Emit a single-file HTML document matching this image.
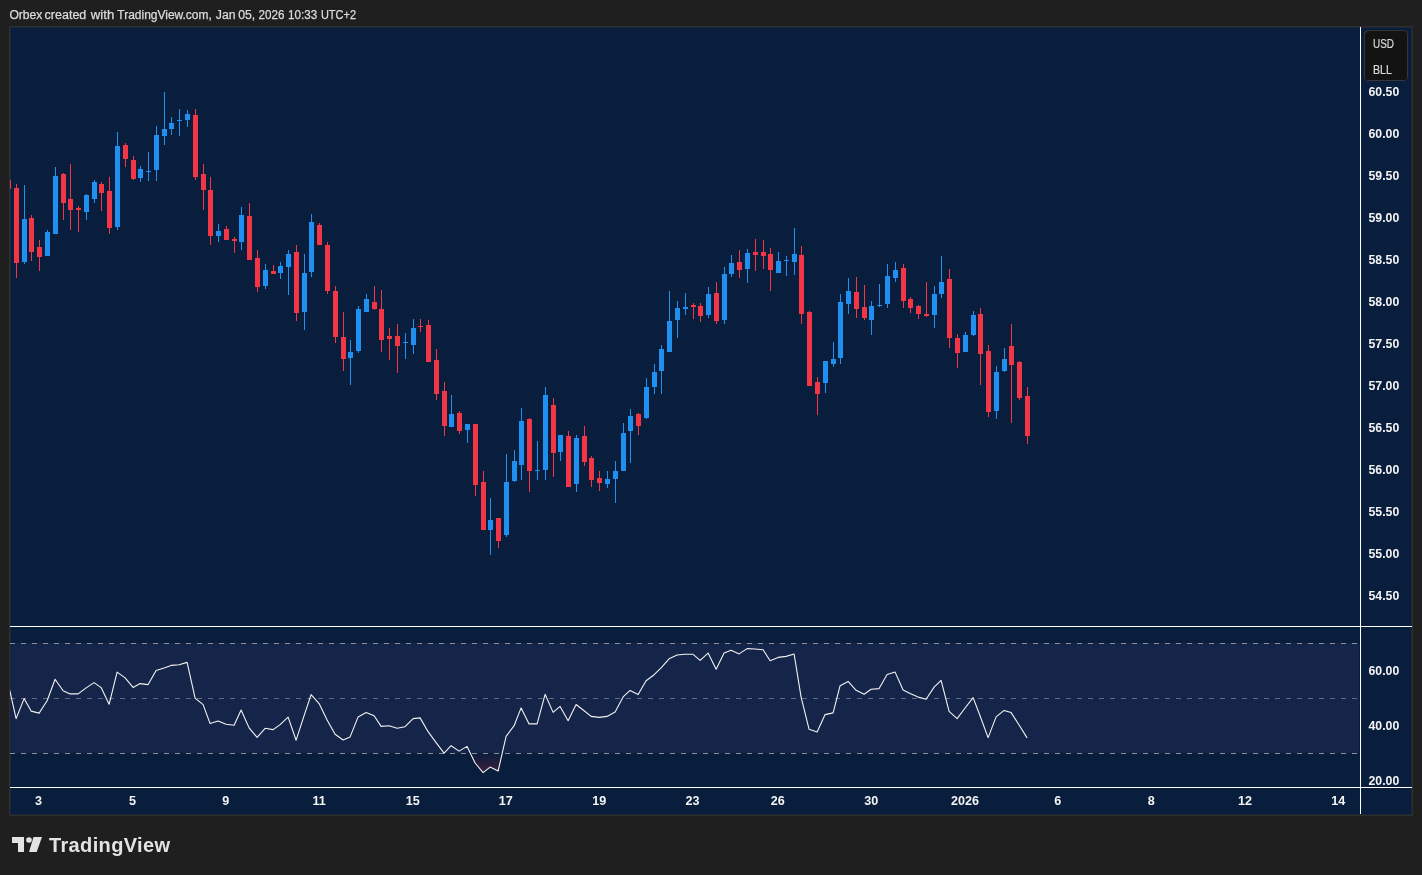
<!DOCTYPE html>
<html><head><meta charset="utf-8"><style>
html,body{margin:0;padding:0;background:#1f1f1f;width:1422px;height:875px;overflow:hidden}
svg{position:absolute;left:0;top:0;will-change:transform}
.ax{font-family:"Liberation Sans",sans-serif;font-size:12.6px;font-weight:bold;fill:#f4f4f4}
.hd{font-family:"Liberation Sans",sans-serif;font-size:12px;fill:#dcdcdc;stroke:#dcdcdc;stroke-width:0.25}
.bx{font-family:"Liberation Sans",sans-serif;font-size:12px;fill:#dadada;stroke:#dadada;stroke-width:0.2}
.logo{font-family:"Liberation Sans",sans-serif;font-size:20px;font-weight:bold;fill:#e3e3e3}
</style></head><body>
<svg width="1422" height="875" viewBox="0 0 1422 875" shape-rendering="crispEdges">
<text x="9.4" y="19" class="hd" textLength="33.0" lengthAdjust="spacingAndGlyphs">Orbex</text><text x="44.6" y="19" class="hd" textLength="41.7" lengthAdjust="spacingAndGlyphs">created</text><text x="90.8" y="19" class="hd" textLength="23.4" lengthAdjust="spacingAndGlyphs">with</text><text x="117.3" y="19" class="hd" textLength="94.5" lengthAdjust="spacingAndGlyphs">TradingView.com,</text><text x="215.8" y="19" class="hd" textLength="19.7" lengthAdjust="spacingAndGlyphs">Jan</text><text x="238.2" y="19" class="hd" textLength="17.0" lengthAdjust="spacingAndGlyphs">05,</text><text x="258.5" y="19" class="hd" textLength="25.9" lengthAdjust="spacingAndGlyphs">2026</text><text x="288.1" y="19" class="hd" textLength="29.2" lengthAdjust="spacingAndGlyphs">10:33</text><text x="320.9" y="19" class="hd" textLength="35.1" lengthAdjust="spacingAndGlyphs">UTC+2</text>
<rect x="9" y="26" width="1404" height="790" fill="#2f2f2f"/>
<rect x="10" y="27" width="1402" height="788" fill="#1b2637"/>
<rect x="11" y="28" width="1400" height="786" fill="#091e3c"/>
<rect x="10" y="643" width="1349" height="110" fill="#152549"/>
<g stroke-width="1" stroke-dasharray="5,6">
<line x1="10" y1="643.5" x2="1359" y2="643.5" stroke="#8c8e94"/>
<line x1="10" y1="698.5" x2="1359" y2="698.5" stroke="#636a80"/>
<line x1="10" y1="753.5" x2="1359" y2="753.5" stroke="#8c8e94"/>
</g>
<defs>
<clipPath id="mainclip"><rect x="10" y="27" width="1350" height="599"/></clipPath>
<clipPath id="rsiclip"><rect x="10" y="627" width="1350" height="160"/></clipPath>
<clipPath id="osclip"><rect x="10" y="754" width="1350" height="33"/></clipPath>
<linearGradient id="osg" x1="0" y1="753" x2="0" y2="775" gradientUnits="userSpaceOnUse">
<stop offset="0" stop-color="#091e3c"/><stop offset="1" stop-color="#44203f"/>
</linearGradient>
</defs>
<g clip-path="url(#mainclip)">
<rect x="8" y="180" width="1" height="9" fill="#f23645"/>
<rect x="6" y="180" width="5" height="9" fill="#f23645"/>
<rect x="16" y="184" width="1" height="94" fill="#f23645"/>
<rect x="14" y="188" width="5" height="75" fill="#f23645"/>
<rect x="24" y="185" width="1" height="79" fill="#1f8ff0"/>
<rect x="22" y="219" width="5" height="43" fill="#1f8ff0"/>
<rect x="31" y="215" width="1" height="46" fill="#f23645"/>
<rect x="29" y="218" width="5" height="34" fill="#f23645"/>
<rect x="39" y="240" width="1" height="31" fill="#f23645"/>
<rect x="37" y="247" width="5" height="10" fill="#f23645"/>
<rect x="47" y="230" width="1" height="26" fill="#1f8ff0"/>
<rect x="45" y="232" width="5" height="24" fill="#1f8ff0"/>
<rect x="55" y="167" width="1" height="67" fill="#1f8ff0"/>
<rect x="53" y="176" width="5" height="58" fill="#1f8ff0"/>
<rect x="63" y="173" width="1" height="47" fill="#f23645"/>
<rect x="61" y="174" width="5" height="29" fill="#f23645"/>
<rect x="70" y="164" width="1" height="66" fill="#f23645"/>
<rect x="68" y="199" width="5" height="11" fill="#f23645"/>
<rect x="78" y="206" width="1" height="26" fill="#f23645"/>
<rect x="76" y="208" width="5" height="2" fill="#f23645"/>
<rect x="86" y="194" width="1" height="26" fill="#1f8ff0"/>
<rect x="84" y="195" width="5" height="17" fill="#1f8ff0"/>
<rect x="94" y="180" width="1" height="23" fill="#1f8ff0"/>
<rect x="92" y="182" width="5" height="17" fill="#1f8ff0"/>
<rect x="101" y="182" width="1" height="29" fill="#f23645"/>
<rect x="99" y="184" width="5" height="9" fill="#f23645"/>
<rect x="109" y="177" width="1" height="57" fill="#f23645"/>
<rect x="107" y="191" width="5" height="37" fill="#f23645"/>
<rect x="117" y="132" width="1" height="98" fill="#1f8ff0"/>
<rect x="115" y="146" width="5" height="81" fill="#1f8ff0"/>
<rect x="125" y="143" width="1" height="24" fill="#f23645"/>
<rect x="123" y="145" width="5" height="14" fill="#f23645"/>
<rect x="133" y="156" width="1" height="24" fill="#f23645"/>
<rect x="131" y="160" width="5" height="19" fill="#f23645"/>
<rect x="140" y="166" width="1" height="16" fill="#1f8ff0"/>
<rect x="138" y="169" width="5" height="9" fill="#1f8ff0"/>
<rect x="148" y="152" width="1" height="29" fill="#1f8ff0"/>
<rect x="146" y="171" width="5" height="1" fill="#1f8ff0"/>
<rect x="156" y="126" width="1" height="55" fill="#1f8ff0"/>
<rect x="154" y="135" width="5" height="35" fill="#1f8ff0"/>
<rect x="164" y="92" width="1" height="53" fill="#1f8ff0"/>
<rect x="162" y="129" width="5" height="7" fill="#1f8ff0"/>
<rect x="171" y="117" width="1" height="18" fill="#1f8ff0"/>
<rect x="169" y="123" width="5" height="6" fill="#1f8ff0"/>
<rect x="179" y="109" width="1" height="27" fill="#1f8ff0"/>
<rect x="177" y="120" width="5" height="1" fill="#1f8ff0"/>
<rect x="187" y="110" width="1" height="17" fill="#1f8ff0"/>
<rect x="185" y="114" width="5" height="6" fill="#1f8ff0"/>
<rect x="195" y="109" width="1" height="71" fill="#f23645"/>
<rect x="193" y="115" width="5" height="62" fill="#f23645"/>
<rect x="203" y="164" width="1" height="46" fill="#f23645"/>
<rect x="201" y="174" width="5" height="16" fill="#f23645"/>
<rect x="210" y="177" width="1" height="68" fill="#f23645"/>
<rect x="208" y="190" width="5" height="46" fill="#f23645"/>
<rect x="218" y="224" width="1" height="18" fill="#1f8ff0"/>
<rect x="216" y="231" width="5" height="5" fill="#1f8ff0"/>
<rect x="226" y="226" width="1" height="14" fill="#f23645"/>
<rect x="224" y="229" width="5" height="11" fill="#f23645"/>
<rect x="234" y="237" width="1" height="16" fill="#f23645"/>
<rect x="232" y="239" width="5" height="2" fill="#f23645"/>
<rect x="241" y="207" width="1" height="43" fill="#1f8ff0"/>
<rect x="239" y="215" width="5" height="27" fill="#1f8ff0"/>
<rect x="249" y="203" width="1" height="57" fill="#f23645"/>
<rect x="247" y="216" width="5" height="44" fill="#f23645"/>
<rect x="257" y="250" width="1" height="42" fill="#f23645"/>
<rect x="255" y="258" width="5" height="29" fill="#f23645"/>
<rect x="265" y="264" width="1" height="25" fill="#1f8ff0"/>
<rect x="263" y="270" width="5" height="16" fill="#1f8ff0"/>
<rect x="273" y="265" width="1" height="9" fill="#f23645"/>
<rect x="271" y="271" width="5" height="3" fill="#f23645"/>
<rect x="280" y="262" width="1" height="17" fill="#1f8ff0"/>
<rect x="278" y="266" width="5" height="7" fill="#1f8ff0"/>
<rect x="288" y="250" width="1" height="45" fill="#1f8ff0"/>
<rect x="286" y="254" width="5" height="13" fill="#1f8ff0"/>
<rect x="296" y="245" width="1" height="76" fill="#f23645"/>
<rect x="294" y="252" width="5" height="61" fill="#f23645"/>
<rect x="304" y="254" width="1" height="76" fill="#1f8ff0"/>
<rect x="302" y="273" width="5" height="39" fill="#1f8ff0"/>
<rect x="311" y="214" width="1" height="63" fill="#1f8ff0"/>
<rect x="309" y="222" width="5" height="50" fill="#1f8ff0"/>
<rect x="319" y="223" width="1" height="22" fill="#f23645"/>
<rect x="317" y="225" width="5" height="20" fill="#f23645"/>
<rect x="327" y="242" width="1" height="52" fill="#f23645"/>
<rect x="325" y="245" width="5" height="46" fill="#f23645"/>
<rect x="335" y="286" width="1" height="57" fill="#f23645"/>
<rect x="333" y="291" width="5" height="46" fill="#f23645"/>
<rect x="343" y="312" width="1" height="59" fill="#f23645"/>
<rect x="341" y="337" width="5" height="22" fill="#f23645"/>
<rect x="350" y="340" width="1" height="45" fill="#1f8ff0"/>
<rect x="348" y="352" width="5" height="6" fill="#1f8ff0"/>
<rect x="358" y="306" width="1" height="47" fill="#1f8ff0"/>
<rect x="356" y="309" width="5" height="42" fill="#1f8ff0"/>
<rect x="366" y="294" width="1" height="18" fill="#1f8ff0"/>
<rect x="364" y="299" width="5" height="13" fill="#1f8ff0"/>
<rect x="374" y="286" width="1" height="24" fill="#f23645"/>
<rect x="372" y="302" width="5" height="7" fill="#f23645"/>
<rect x="381" y="290" width="1" height="62" fill="#f23645"/>
<rect x="379" y="309" width="5" height="31" fill="#f23645"/>
<rect x="389" y="328" width="1" height="32" fill="#f23645"/>
<rect x="387" y="336" width="5" height="3" fill="#f23645"/>
<rect x="397" y="324" width="1" height="49" fill="#f23645"/>
<rect x="395" y="336" width="5" height="10" fill="#f23645"/>
<rect x="405" y="333" width="1" height="26" fill="#1f8ff0"/>
<rect x="403" y="342" width="5" height="1" fill="#1f8ff0"/>
<rect x="413" y="319" width="1" height="35" fill="#1f8ff0"/>
<rect x="411" y="328" width="5" height="17" fill="#1f8ff0"/>
<rect x="420" y="319" width="1" height="13" fill="#f23645"/>
<rect x="418" y="326" width="5" height="1" fill="#f23645"/>
<rect x="428" y="320" width="1" height="42" fill="#f23645"/>
<rect x="426" y="325" width="5" height="37" fill="#f23645"/>
<rect x="436" y="349" width="1" height="51" fill="#f23645"/>
<rect x="434" y="360" width="5" height="34" fill="#f23645"/>
<rect x="444" y="382" width="1" height="54" fill="#f23645"/>
<rect x="442" y="391" width="5" height="35" fill="#f23645"/>
<rect x="451" y="395" width="1" height="32" fill="#1f8ff0"/>
<rect x="449" y="414" width="5" height="13" fill="#1f8ff0"/>
<rect x="459" y="411" width="1" height="23" fill="#f23645"/>
<rect x="457" y="413" width="5" height="18" fill="#f23645"/>
<rect x="467" y="424" width="1" height="19" fill="#1f8ff0"/>
<rect x="465" y="424" width="5" height="6" fill="#1f8ff0"/>
<rect x="475" y="424" width="1" height="72" fill="#f23645"/>
<rect x="473" y="424" width="5" height="61" fill="#f23645"/>
<rect x="483" y="471" width="1" height="59" fill="#f23645"/>
<rect x="481" y="482" width="5" height="48" fill="#f23645"/>
<rect x="490" y="498" width="1" height="57" fill="#1f8ff0"/>
<rect x="488" y="520" width="5" height="10" fill="#1f8ff0"/>
<rect x="498" y="518" width="1" height="30" fill="#f23645"/>
<rect x="496" y="518" width="5" height="23" fill="#f23645"/>
<rect x="506" y="454" width="1" height="83" fill="#1f8ff0"/>
<rect x="504" y="482" width="5" height="53" fill="#1f8ff0"/>
<rect x="514" y="450" width="1" height="32" fill="#1f8ff0"/>
<rect x="512" y="461" width="5" height="20" fill="#1f8ff0"/>
<rect x="521" y="408" width="1" height="72" fill="#1f8ff0"/>
<rect x="519" y="421" width="5" height="44" fill="#1f8ff0"/>
<rect x="529" y="418" width="1" height="74" fill="#f23645"/>
<rect x="527" y="419" width="5" height="52" fill="#f23645"/>
<rect x="537" y="441" width="1" height="39" fill="#1f8ff0"/>
<rect x="535" y="470" width="5" height="1" fill="#1f8ff0"/>
<rect x="545" y="387" width="1" height="93" fill="#1f8ff0"/>
<rect x="543" y="395" width="5" height="75" fill="#1f8ff0"/>
<rect x="553" y="398" width="1" height="79" fill="#f23645"/>
<rect x="551" y="405" width="5" height="48" fill="#f23645"/>
<rect x="560" y="435" width="1" height="26" fill="#1f8ff0"/>
<rect x="558" y="435" width="5" height="17" fill="#1f8ff0"/>
<rect x="568" y="431" width="1" height="56" fill="#f23645"/>
<rect x="566" y="436" width="5" height="51" fill="#f23645"/>
<rect x="576" y="435" width="1" height="57" fill="#1f8ff0"/>
<rect x="574" y="438" width="5" height="46" fill="#1f8ff0"/>
<rect x="584" y="426" width="1" height="40" fill="#f23645"/>
<rect x="582" y="436" width="5" height="26" fill="#f23645"/>
<rect x="591" y="456" width="1" height="31" fill="#f23645"/>
<rect x="589" y="458" width="5" height="22" fill="#f23645"/>
<rect x="599" y="471" width="1" height="20" fill="#f23645"/>
<rect x="597" y="478" width="5" height="5" fill="#f23645"/>
<rect x="607" y="471" width="1" height="17" fill="#1f8ff0"/>
<rect x="605" y="479" width="5" height="5" fill="#1f8ff0"/>
<rect x="615" y="461" width="1" height="42" fill="#1f8ff0"/>
<rect x="613" y="471" width="5" height="8" fill="#1f8ff0"/>
<rect x="623" y="423" width="1" height="48" fill="#1f8ff0"/>
<rect x="621" y="433" width="5" height="38" fill="#1f8ff0"/>
<rect x="630" y="409" width="1" height="54" fill="#1f8ff0"/>
<rect x="628" y="416" width="5" height="15" fill="#1f8ff0"/>
<rect x="638" y="413" width="1" height="22" fill="#f23645"/>
<rect x="636" y="414" width="5" height="12" fill="#f23645"/>
<rect x="646" y="378" width="1" height="41" fill="#1f8ff0"/>
<rect x="644" y="387" width="5" height="31" fill="#1f8ff0"/>
<rect x="654" y="364" width="1" height="30" fill="#1f8ff0"/>
<rect x="652" y="372" width="5" height="15" fill="#1f8ff0"/>
<rect x="661" y="345" width="1" height="49" fill="#1f8ff0"/>
<rect x="659" y="349" width="5" height="22" fill="#1f8ff0"/>
<rect x="669" y="291" width="1" height="61" fill="#1f8ff0"/>
<rect x="667" y="321" width="5" height="31" fill="#1f8ff0"/>
<rect x="677" y="301" width="1" height="37" fill="#1f8ff0"/>
<rect x="675" y="308" width="5" height="12" fill="#1f8ff0"/>
<rect x="685" y="293" width="1" height="22" fill="#1f8ff0"/>
<rect x="683" y="307" width="5" height="2" fill="#1f8ff0"/>
<rect x="693" y="303" width="1" height="16" fill="#f23645"/>
<rect x="691" y="305" width="5" height="2" fill="#f23645"/>
<rect x="700" y="303" width="1" height="19" fill="#f23645"/>
<rect x="698" y="306" width="5" height="10" fill="#f23645"/>
<rect x="708" y="287" width="1" height="31" fill="#1f8ff0"/>
<rect x="706" y="294" width="5" height="21" fill="#1f8ff0"/>
<rect x="716" y="282" width="1" height="42" fill="#f23645"/>
<rect x="714" y="293" width="5" height="28" fill="#f23645"/>
<rect x="724" y="267" width="1" height="57" fill="#1f8ff0"/>
<rect x="722" y="274" width="5" height="46" fill="#1f8ff0"/>
<rect x="731" y="255" width="1" height="22" fill="#1f8ff0"/>
<rect x="729" y="263" width="5" height="11" fill="#1f8ff0"/>
<rect x="739" y="250" width="1" height="28" fill="#f23645"/>
<rect x="737" y="262" width="5" height="8" fill="#f23645"/>
<rect x="747" y="249" width="1" height="34" fill="#1f8ff0"/>
<rect x="745" y="253" width="5" height="16" fill="#1f8ff0"/>
<rect x="755" y="239" width="1" height="32" fill="#f23645"/>
<rect x="753" y="252" width="5" height="3" fill="#f23645"/>
<rect x="763" y="240" width="1" height="29" fill="#f23645"/>
<rect x="761" y="252" width="5" height="4" fill="#f23645"/>
<rect x="770" y="248" width="1" height="43" fill="#f23645"/>
<rect x="768" y="254" width="5" height="16" fill="#f23645"/>
<rect x="778" y="252" width="1" height="21" fill="#1f8ff0"/>
<rect x="776" y="261" width="5" height="12" fill="#1f8ff0"/>
<rect x="786" y="256" width="1" height="20" fill="#1f8ff0"/>
<rect x="784" y="260" width="5" height="1" fill="#1f8ff0"/>
<rect x="794" y="228" width="1" height="47" fill="#1f8ff0"/>
<rect x="792" y="254" width="5" height="8" fill="#1f8ff0"/>
<rect x="801" y="246" width="1" height="78" fill="#f23645"/>
<rect x="799" y="255" width="5" height="59" fill="#f23645"/>
<rect x="809" y="311" width="1" height="75" fill="#f23645"/>
<rect x="807" y="312" width="5" height="74" fill="#f23645"/>
<rect x="817" y="377" width="1" height="38" fill="#f23645"/>
<rect x="815" y="382" width="5" height="12" fill="#f23645"/>
<rect x="825" y="361" width="1" height="32" fill="#1f8ff0"/>
<rect x="823" y="361" width="5" height="22" fill="#1f8ff0"/>
<rect x="833" y="342" width="1" height="25" fill="#1f8ff0"/>
<rect x="831" y="359" width="5" height="5" fill="#1f8ff0"/>
<rect x="840" y="294" width="1" height="70" fill="#1f8ff0"/>
<rect x="838" y="302" width="5" height="56" fill="#1f8ff0"/>
<rect x="848" y="278" width="1" height="36" fill="#1f8ff0"/>
<rect x="846" y="291" width="5" height="13" fill="#1f8ff0"/>
<rect x="856" y="277" width="1" height="41" fill="#f23645"/>
<rect x="854" y="292" width="5" height="17" fill="#f23645"/>
<rect x="864" y="285" width="1" height="35" fill="#f23645"/>
<rect x="862" y="307" width="5" height="11" fill="#f23645"/>
<rect x="871" y="301" width="1" height="34" fill="#1f8ff0"/>
<rect x="869" y="306" width="5" height="14" fill="#1f8ff0"/>
<rect x="879" y="284" width="1" height="23" fill="#1f8ff0"/>
<rect x="877" y="305" width="5" height="1" fill="#1f8ff0"/>
<rect x="887" y="264" width="1" height="44" fill="#1f8ff0"/>
<rect x="885" y="276" width="5" height="28" fill="#1f8ff0"/>
<rect x="895" y="262" width="1" height="20" fill="#1f8ff0"/>
<rect x="893" y="270" width="5" height="8" fill="#1f8ff0"/>
<rect x="903" y="264" width="1" height="44" fill="#f23645"/>
<rect x="901" y="268" width="5" height="33" fill="#f23645"/>
<rect x="910" y="297" width="1" height="16" fill="#f23645"/>
<rect x="908" y="299" width="5" height="9" fill="#f23645"/>
<rect x="918" y="305" width="1" height="14" fill="#f23645"/>
<rect x="916" y="306" width="5" height="8" fill="#f23645"/>
<rect x="926" y="282" width="1" height="35" fill="#f23645"/>
<rect x="924" y="314" width="5" height="2" fill="#f23645"/>
<rect x="934" y="286" width="1" height="42" fill="#1f8ff0"/>
<rect x="932" y="294" width="5" height="21" fill="#1f8ff0"/>
<rect x="941" y="256" width="1" height="42" fill="#1f8ff0"/>
<rect x="939" y="282" width="5" height="12" fill="#1f8ff0"/>
<rect x="949" y="269" width="1" height="79" fill="#f23645"/>
<rect x="947" y="279" width="5" height="59" fill="#f23645"/>
<rect x="957" y="334" width="1" height="34" fill="#f23645"/>
<rect x="955" y="338" width="5" height="15" fill="#f23645"/>
<rect x="965" y="332" width="1" height="20" fill="#1f8ff0"/>
<rect x="963" y="335" width="5" height="17" fill="#1f8ff0"/>
<rect x="973" y="311" width="1" height="25" fill="#1f8ff0"/>
<rect x="971" y="315" width="5" height="20" fill="#1f8ff0"/>
<rect x="980" y="308" width="1" height="77" fill="#f23645"/>
<rect x="978" y="314" width="5" height="40" fill="#f23645"/>
<rect x="988" y="345" width="1" height="72" fill="#f23645"/>
<rect x="986" y="351" width="5" height="61" fill="#f23645"/>
<rect x="996" y="366" width="1" height="53" fill="#1f8ff0"/>
<rect x="994" y="372" width="5" height="39" fill="#1f8ff0"/>
<rect x="1004" y="348" width="1" height="24" fill="#1f8ff0"/>
<rect x="1002" y="359" width="5" height="12" fill="#1f8ff0"/>
<rect x="1011" y="324" width="1" height="99" fill="#f23645"/>
<rect x="1009" y="346" width="5" height="19" fill="#f23645"/>
<rect x="1019" y="361" width="1" height="39" fill="#f23645"/>
<rect x="1017" y="362" width="5" height="36" fill="#f23645"/>
<rect x="1027" y="387" width="1" height="57" fill="#f23645"/>
<rect x="1025" y="396" width="5" height="40" fill="#f23645"/>
</g>
<rect x="10" y="626" width="1402" height="1" fill="#ffffff"/>
<rect x="10" y="787" width="1402" height="1" fill="#ffffff"/>
<rect x="1360" y="27" width="1" height="787" fill="#ffffff"/>
<g clip-path="url(#osclip)"><polygon points="10,753 8.1,683.0 16.1,718.6 24.1,698.6 31.1,711.1 39.1,713.1 47.1,700.7 55.1,679.3 63.1,690.7 70.1,693.9 78.1,693.9 86.1,687.9 94.1,682.6 101.1,687.6 109.1,704.3 117.1,672.1 125.1,677.9 133.1,687.4 140.1,683.6 148.1,684.6 156.1,670.4 164.1,667.9 171.1,665.4 179.1,664.7 187.1,662.4 195.1,698.1 203.1,704.6 210.1,723.6 218.1,721.1 226.1,724.3 234.1,725.3 241.1,710.0 249.1,727.9 257.1,737.4 265.1,728.3 273.1,729.6 280.1,724.6 288.1,717.1 296.1,740.2 304.1,715.7 311.1,694.6 319.1,703.6 327.1,720.0 335.1,734.3 343.1,740.0 350.1,736.9 358.1,716.9 366.1,712.4 374.1,715.7 381.1,726.4 389.1,725.7 397.1,728.3 405.1,726.7 413.1,718.6 420.1,717.9 428.1,731.7 436.1,742.6 444.1,753.1 451.1,745.7 459.1,751.1 467.1,746.4 475.1,763.0 483.1,772.6 490.1,767.1 498.1,771.1 506.1,736.4 514.1,725.7 521.1,707.9 529.1,723.9 537.1,723.9 545.1,694.3 553.1,712.4 560.1,706.4 568.1,720.7 576.1,704.5 584.1,710.7 591.1,716.4 599.1,717.4 607.1,716.4 615.1,712.1 623.1,696.9 630.1,690.4 638.1,694.6 646.1,680.7 654.1,674.7 661.1,667.9 669.1,658.8 677.1,655.0 685.1,654.3 693.1,654.3 700.1,660.4 708.1,653.1 716.1,669.3 724.1,653.1 731.1,650.3 739.1,653.9 747.1,648.6 755.1,649.0 763.1,649.7 770.1,660.7 778.1,657.4 786.1,656.4 794.1,654.0 801.1,697.1 809.1,729.3 817.1,732.1 825.1,714.6 833.1,712.9 840.1,685.7 848.1,681.4 856.1,690.3 864.1,694.3 871.1,689.3 879.1,688.6 887.1,674.6 895.1,672.1 903.1,690.0 910.1,693.6 918.1,697.1 926.1,699.3 934.1,687.1 941.1,680.3 949.1,711.4 957.1,718.6 965.1,708.0 973.1,697.6 980.1,716.0 988.1,737.6 996.1,716.9 1004.1,710.4 1011.1,712.6 1019.1,725.0 1027.1,737.9 1030,753" fill="url(#osg)" shape-rendering="geometricPrecision"/></g>
<g clip-path="url(#rsiclip)"><polyline points="8.1,683.0 16.1,718.6 24.1,698.6 31.1,711.1 39.1,713.1 47.1,700.7 55.1,679.3 63.1,690.7 70.1,693.9 78.1,693.9 86.1,687.9 94.1,682.6 101.1,687.6 109.1,704.3 117.1,672.1 125.1,677.9 133.1,687.4 140.1,683.6 148.1,684.6 156.1,670.4 164.1,667.9 171.1,665.4 179.1,664.7 187.1,662.4 195.1,698.1 203.1,704.6 210.1,723.6 218.1,721.1 226.1,724.3 234.1,725.3 241.1,710.0 249.1,727.9 257.1,737.4 265.1,728.3 273.1,729.6 280.1,724.6 288.1,717.1 296.1,740.2 304.1,715.7 311.1,694.6 319.1,703.6 327.1,720.0 335.1,734.3 343.1,740.0 350.1,736.9 358.1,716.9 366.1,712.4 374.1,715.7 381.1,726.4 389.1,725.7 397.1,728.3 405.1,726.7 413.1,718.6 420.1,717.9 428.1,731.7 436.1,742.6 444.1,753.1 451.1,745.7 459.1,751.1 467.1,746.4 475.1,763.0 483.1,772.6 490.1,767.1 498.1,771.1 506.1,736.4 514.1,725.7 521.1,707.9 529.1,723.9 537.1,723.9 545.1,694.3 553.1,712.4 560.1,706.4 568.1,720.7 576.1,704.5 584.1,710.7 591.1,716.4 599.1,717.4 607.1,716.4 615.1,712.1 623.1,696.9 630.1,690.4 638.1,694.6 646.1,680.7 654.1,674.7 661.1,667.9 669.1,658.8 677.1,655.0 685.1,654.3 693.1,654.3 700.1,660.4 708.1,653.1 716.1,669.3 724.1,653.1 731.1,650.3 739.1,653.9 747.1,648.6 755.1,649.0 763.1,649.7 770.1,660.7 778.1,657.4 786.1,656.4 794.1,654.0 801.1,697.1 809.1,729.3 817.1,732.1 825.1,714.6 833.1,712.9 840.1,685.7 848.1,681.4 856.1,690.3 864.1,694.3 871.1,689.3 879.1,688.6 887.1,674.6 895.1,672.1 903.1,690.0 910.1,693.6 918.1,697.1 926.1,699.3 934.1,687.1 941.1,680.3 949.1,711.4 957.1,718.6 965.1,708.0 973.1,697.6 980.1,716.0 988.1,737.6 996.1,716.9 1004.1,710.4 1011.1,712.6 1019.1,725.0 1027.1,737.9" fill="none" stroke="#f2f2f2" stroke-width="1.1" stroke-linejoin="round" shape-rendering="geometricPrecision"/></g>
<g shape-rendering="geometricPrecision">
<text x="1368.5" y="95.5" class="ax" style="font-size:12.3px">60.50</text>
<text x="1368.5" y="137.5" class="ax" style="font-size:12.3px">60.00</text>
<text x="1368.5" y="179.5" class="ax" style="font-size:12.3px">59.50</text>
<text x="1368.5" y="221.5" class="ax" style="font-size:12.3px">59.00</text>
<text x="1368.5" y="263.5" class="ax" style="font-size:12.3px">58.50</text>
<text x="1368.5" y="305.5" class="ax" style="font-size:12.3px">58.00</text>
<text x="1368.5" y="347.5" class="ax" style="font-size:12.3px">57.50</text>
<text x="1368.5" y="389.5" class="ax" style="font-size:12.3px">57.00</text>
<text x="1368.5" y="431.5" class="ax" style="font-size:12.3px">56.50</text>
<text x="1368.5" y="473.5" class="ax" style="font-size:12.3px">56.00</text>
<text x="1368.5" y="515.5" class="ax" style="font-size:12.3px">55.50</text>
<text x="1368.5" y="557.5" class="ax" style="font-size:12.3px">55.00</text>
<text x="1368.5" y="599.5" class="ax" style="font-size:12.3px">54.50</text>
<text x="1368.5" y="675.0" class="ax" style="font-size:12.3px">60.00</text>
<text x="1368.5" y="730.0" class="ax" style="font-size:12.3px">40.00</text>
<text x="1368.5" y="785.0" class="ax" style="font-size:12.3px">20.00</text>
<text x="38.6" y="805" class="ax" text-anchor="middle">3</text>
<text x="132.4" y="805" class="ax" text-anchor="middle">5</text>
<text x="225.7" y="805" class="ax" text-anchor="middle">9</text>
<text x="319.2" y="805" class="ax" text-anchor="middle">11</text>
<text x="412.8" y="805" class="ax" text-anchor="middle">15</text>
<text x="505.8" y="805" class="ax" text-anchor="middle">17</text>
<text x="599.3" y="805" class="ax" text-anchor="middle">19</text>
<text x="692.6" y="805" class="ax" text-anchor="middle">23</text>
<text x="777.8" y="805" class="ax" text-anchor="middle">26</text>
<text x="871.3" y="805" class="ax" text-anchor="middle">30</text>
<text x="965.1" y="805" class="ax" text-anchor="middle">2026</text>
<text x="1057.8" y="805" class="ax" text-anchor="middle">6</text>
<text x="1151.2" y="805" class="ax" text-anchor="middle">8</text>
<text x="1244.9" y="805" class="ax" text-anchor="middle">12</text>
<text x="1338.3" y="805" class="ax" text-anchor="middle">14</text>
</g>
<rect x="1364.5" y="30.5" width="43" height="50" rx="4" fill="#131313" stroke="#363636"/>
<text x="1373" y="48" class="bx" textLength="21" lengthAdjust="spacingAndGlyphs">USD</text>
<text x="1373" y="74" class="bx" textLength="19" lengthAdjust="spacingAndGlyphs">BLL</text>
<g fill="#e3e3e3" shape-rendering="geometricPrecision">
<path d="M12 837H24V852H18V843H12Z"/>
<circle cx="29" cy="840" r="2.8"/>
<path d="M33.5 837H42L36.7 852H29Z"/>
<text x="49" y="852" class="logo" textLength="121" lengthAdjust="spacing">TradingView</text>
</g>
</svg>
</body></html>
